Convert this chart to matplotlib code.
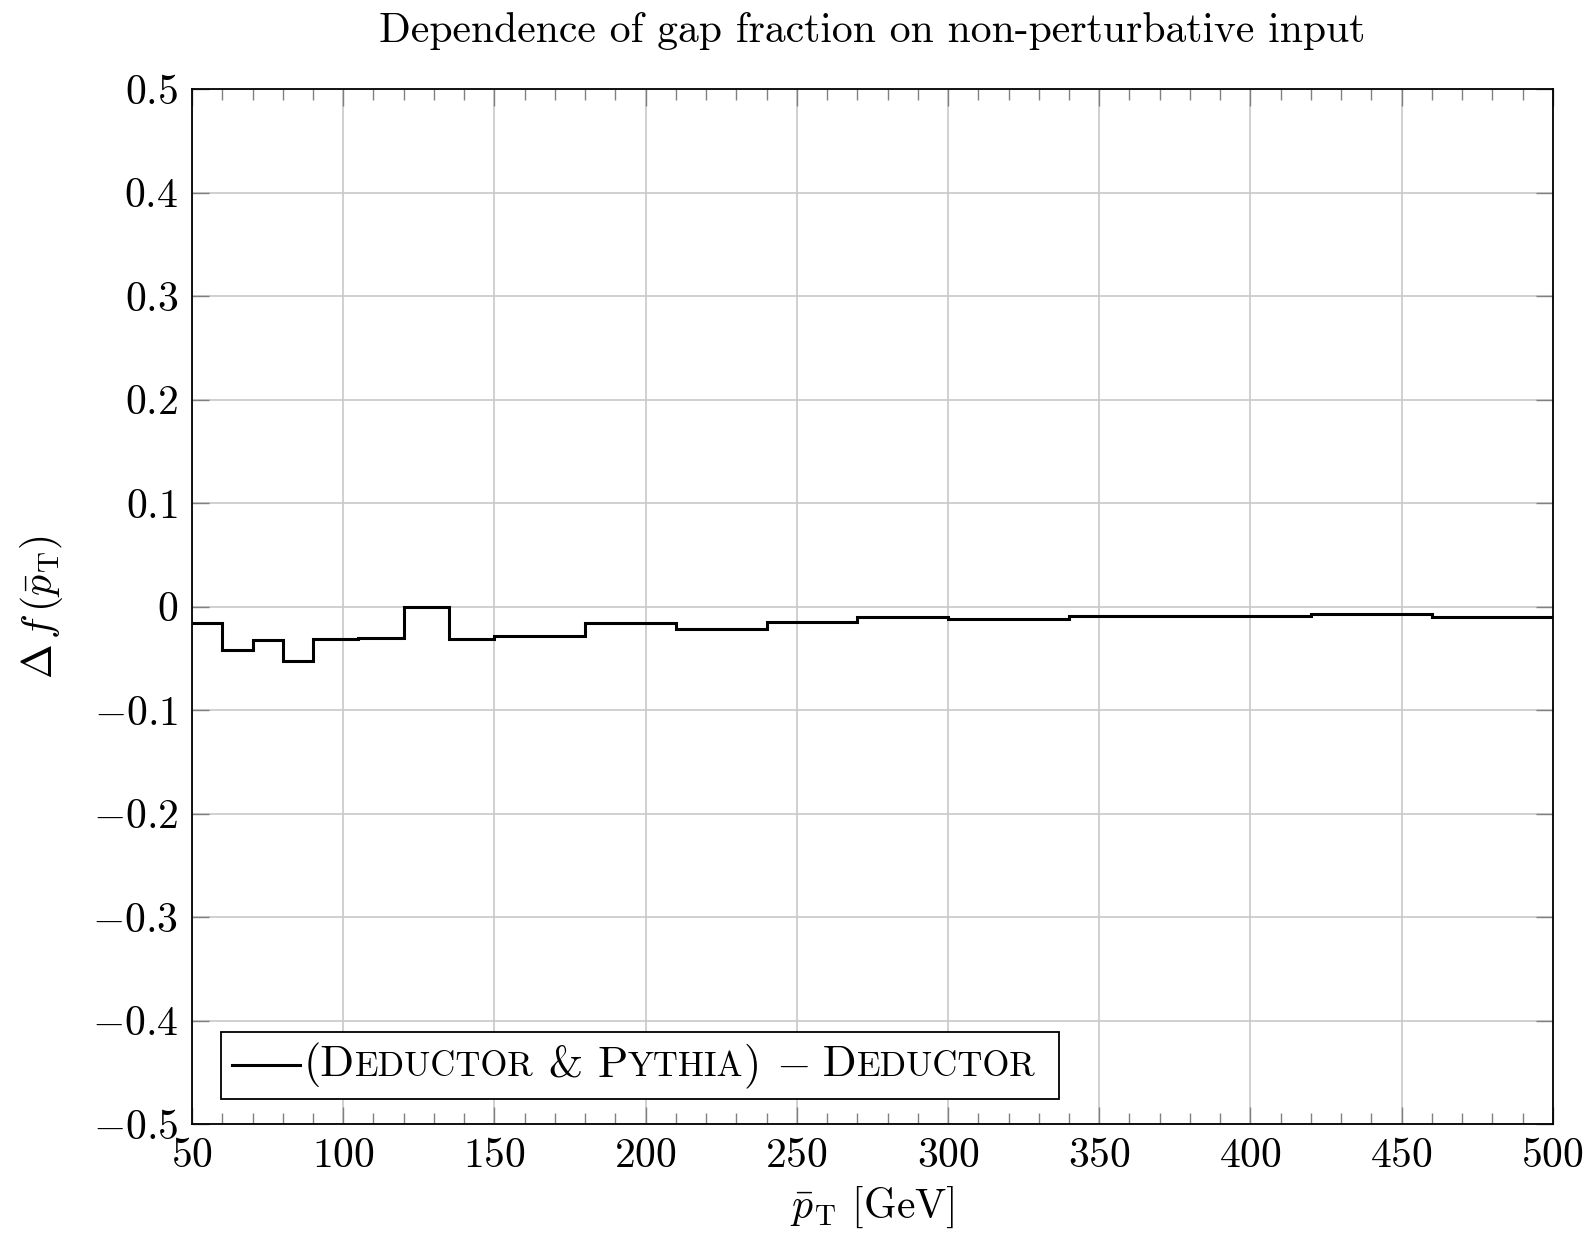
import matplotlib
matplotlib.use("Agg")
import matplotlib.pyplot as plt
from matplotlib.offsetbox import TextArea, HPacker, DrawingArea, AnchoredOffsetbox
from matplotlib.lines import Line2D
from matplotlib.ticker import MultipleLocator

plt.rcParams["font.family"] = "serif"
plt.rcParams["font.serif"] = ["cmr10"]
plt.rcParams["mathtext.fontset"] = "cm"
plt.rcParams["axes.formatter.use_mathtext"] = True
plt.rcParams["axes.unicode_minus"] = True

# Bin edges of the averaged jet transverse momentum (GeV)
bin_edges = [50, 60, 70, 80, 90, 105, 120, 135, 150, 180, 210, 240, 270,
             300, 340, 380, 420, 460, 500]
# Difference in gap fraction per bin
delta_f = [-0.0155, -0.0425, -0.032, -0.0525, -0.031, -0.030, 0.0, -0.031,
           -0.0287, -0.0155, -0.0216, -0.0148, -0.0103, -0.0123, -0.0095,
           -0.0087, -0.0077, -0.0106]

x_ticks = [50, 100, 150, 200, 250, 300, 350, 400, 450, 500]
y_ticks = [-0.5, -0.4, -0.3, -0.2, -0.1, 0.0, 0.1, 0.2, 0.3, 0.4, 0.5]

FS = 30

fig = plt.figure(figsize=(15.91, 12.33), dpi=100)
ax = fig.add_axes([0.1207, 0.0884, 0.976 - 0.1207, 0.9278 - 0.0884])

ax.stairs(delta_f, bin_edges, color="black", lw=2.2, baseline=None, zorder=3)

ax.set_xlim(50, 500)
ax.set_ylim(-0.5, 0.5)
ax.set_xticks(x_ticks)
ax.set_yticks(y_ticks)
ax.xaxis.set_minor_locator(MultipleLocator(10))
ax.set_yticklabels(["$-0.5$", "$-0.4$", "$-0.3$", "$-0.2$", "$-0.1$", "$0$",
                    "$0.1$", "$0.2$", "$0.3$", "$0.4$", "$0.5$"])
ax.set_xticklabels([f"${v}$" for v in x_ticks])

ax.grid(True, which="major", color="#c8c8c8", lw=1.2, zorder=0)
ax.tick_params(which="both", direction="in", top=True, right=True,
               color="#808080", labelsize=FS, pad=10)
ax.tick_params(which="major", length=12, width=1.0)
ax.tick_params(which="minor", length=8, width=1.0)
for s in ax.spines.values():
    s.set_linewidth(1.3)
    s.set_zorder(4)

ax.set_title("Dependence of gap fraction on non-perturbative input",
             fontsize=FS, pad=34)
ax.set_xlabel(r"$\bar{p}_\mathrm{T}$ [GeV]", fontsize=FS, labelpad=7)
ax.set_ylabel(r"$\Delta\, f\,(\bar{p}_\mathrm{T})$", fontsize=FS, labelpad=19)

# Legend built from pieces to render small-caps names
LFS = 32
big = dict(fontsize=LFS, fontfamily="serif")
small = dict(fontsize=LFS * 0.78, fontfamily="serif")
pieces = [("(D", big), ("EDUCTOR", small), (" & P", big), ("YTHIA", small),
          (") ", big), ("$-$", big), (" D", big), ("EDUCTOR", small)]
line_area = DrawingArea(49, 14, 0, 0)
line_area.add_artist(Line2D([0, 49], [7, 7], color="black", lw=2.2))
text_row = HPacker(children=[TextArea(t, textprops=p) for t, p in pieces],
                   align="baseline", pad=0, sep=0)
trailing = DrawingArea(6, 1, 0, 0)
packer = HPacker(children=[line_area, text_row, trailing], align="center",
                 pad=0, sep=3)
anchored = AnchoredOffsetbox(loc="lower left", child=packer, pad=0.8,
                             borderpad=0.0, frameon=True,
                             bbox_to_anchor=(0.021, 0.024),
                             bbox_transform=ax.transAxes)
anchored.patch.set_boxstyle("square", pad=0)
anchored.patch.set_edgecolor("black")
anchored.patch.set_linewidth(1.3)
anchored.set_zorder(5)
ax.add_artist(anchored)

fig.savefig("out.png", dpi=100)
